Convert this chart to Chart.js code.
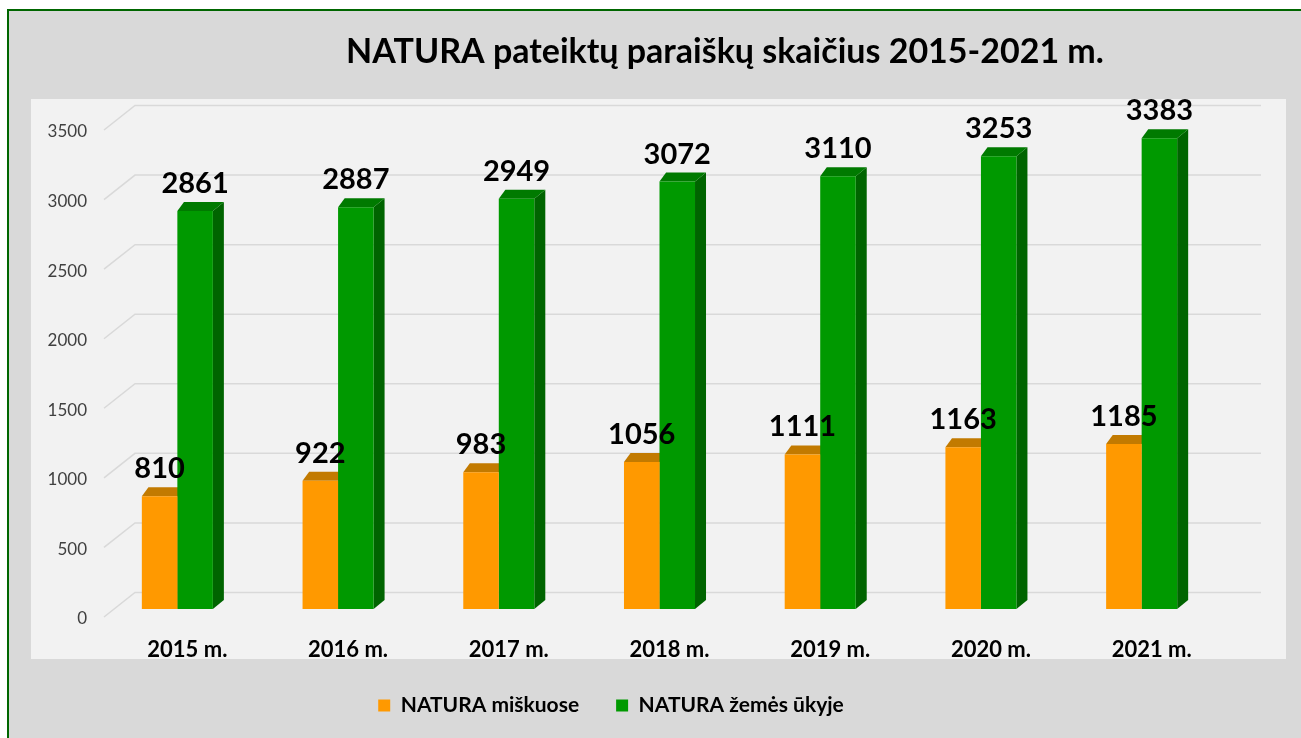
<!DOCTYPE html>
<html>
<head>
<meta charset="utf-8">
<script src="https://cdn.jsdelivr.net/npm/chart.js@4.4.1/dist/chart.umd.min.js"></script>
<style>
  html, body { margin: 0; padding: 0; background: #ffffff; }
  #wrap { position: absolute; left: 0; top: 0; width: 1301px; height: 738px; }
</style>
</head>
<body>
<div id="wrap"><canvas id="c" width="1301" height="738"></canvas></div>
<script>
const categories = ['2015 m.', '2016 m.', '2017 m.', '2018 m.', '2019 m.', '2020 m.', '2021 m.'];
const miskuose = [810, 922, 983, 1056, 1111, 1163, 1185];
const zemesUkyje = [2861, 2887, 2949, 3072, 3110, 3253, 3383];
const yTicks = [0, 500, 1000, 1500, 2000, 2500, 3000, 3500];
const seriesNames = ['NATURA miškuose', 'NATURA žemės ūkyje'];
const titleText = 'NATURA pateiktų paraiškų skaičius 2015-2021 m.';

const DX = 11, DY = 9;
const faceColors = [
  { front: '#ff9900', top: '#c27a00', side: '#b36b00' },
  { front: '#009900', top: '#007a00', side: '#006400' }
];

const backgroundPlugin = {
  id: 'bgPlugin',
  beforeDraw(chart) {
    const ctx = chart.ctx;
    ctx.save();
    ctx.fillStyle = '#ffffff';
    ctx.fillRect(0, 0, chart.width, chart.height);
    ctx.fillStyle = '#d9d9d9';
    ctx.fillRect(8, 10, chart.width - 8, chart.height - 10);
    ctx.fillStyle = '#006600';
    ctx.fillRect(7, 9, chart.width - 7, 2);
    ctx.fillRect(7, 9, 2, chart.height - 9);
    ctx.fillStyle = '#f2f2f2';
    ctx.fillRect(31, 99, 1255, 560);
    ctx.restore();
  },
  afterDraw(chart) {
    const ctx = chart.ctx;
    ctx.save();
    ctx.font = 'bold 34px Lato';
    ctx.fillStyle = '#000000';
    ctx.textAlign = 'center';
    ctx.textBaseline = 'alphabetic';
    ctx.fillText(titleText, 725, 63);
    ctx.restore();
  }
};

const threeDPlugin = {
  id: 'threeD',
  beforeDatasetsDraw(chart) {
    const ctx = chart.ctx;
    const area = chart.chartArea;
    const yScale = chart.scales.y;
    ctx.save();
    ctx.strokeStyle = '#d9d9d9';
    ctx.lineWidth = 1.5;
    yTicks.forEach(v => {
      const yf = yScale.getPixelForValue(v);
      ctx.beginPath();
      ctx.moveTo(area.left + 7, yf + 8);
      ctx.lineTo(area.left + 38, yf - 16.5);
      ctx.lineTo(area.right + 39, yf - 16.5);
      ctx.stroke();
    });
    chart.data.datasets.forEach((ds, di) => {
      const meta = chart.getDatasetMeta(di);
      const col = faceColors[di];
      meta.data.forEach(bar => {
        const p = bar.getProps(['x', 'y', 'base', 'width'], true);
        const x1 = p.x - p.width / 2, x2 = p.x + p.width / 2;
        const top = p.y, base = p.base;
        ctx.fillStyle = col.side;
        ctx.beginPath();
        ctx.moveTo(x2, top);
        ctx.lineTo(x2 + DX, top - DY);
        ctx.lineTo(x2 + DX, base - DY);
        ctx.lineTo(x2, base);
        ctx.closePath();
        ctx.fill();
        ctx.fillStyle = col.top;
        ctx.beginPath();
        ctx.moveTo(x1, top);
        ctx.lineTo(x1 + DX * 0.6, top - DY);
        ctx.lineTo(x2 + DX, top - DY);
        ctx.lineTo(x2, top);
        ctx.closePath();
        ctx.fill();
      });
    });
    ctx.restore();
  },
  afterDatasetsDraw(chart) {
    const ctx = chart.ctx;
    ctx.save();
    ctx.font = 'bold 29px Lato';
    ctx.fillStyle = '#000000';
    ctx.textAlign = 'center';
    ctx.textBaseline = 'alphabetic';
    chart.data.datasets.forEach((ds, di) => {
      const meta = chart.getDatasetMeta(di);
      meta.data.forEach((bar, i) => {
        const p = bar.getProps(['x', 'y'], true);
        ctx.fillText(String(ds.data[i]), p.x, p.y - 18);
      });
    });
    ctx.restore();
  }
};

new Chart(document.getElementById('c'), {
  type: 'bar',
  data: {
    labels: categories,
    datasets: [
      { label: seriesNames[0], data: miskuose, backgroundColor: faceColors[0].front, borderWidth: 0 },
      { label: seriesNames[1], data: zemesUkyje, backgroundColor: faceColors[1].front, borderWidth: 0 }
    ]
  },
  options: {
    responsive: false,
    animation: false,
    devicePixelRatio: 1,
    layout: { padding: { left: 0, right: 79, top: 122, bottom: 12 } },
    datasets: { bar: { categoryPercentage: 0.442, barPercentage: 1.0 } },
    scales: {
      x: {
        type: 'category',
        grid: { display: false, drawTicks: false },
        border: { display: false },
        ticks: { font: { family: 'Lato', weight: 'bold', size: 22 }, color: '#000000', labelOffset: 10, padding: 28, maxRotation: 0 },
        afterFit(scale) { scale.height = 49; }
      },
      y: {
        min: 0, max: 3500,
        grid: { display: false, drawTicks: false },
        border: { display: false },
        afterBuildTicks(scale) { scale.ticks = yTicks.map(v => ({ value: v })); },
        ticks: {
          font: { family: 'Lato', size: 17 }, color: '#404040', labelOffset: 10, padding: 10,
          callback: (v) => String(v)
        },
        afterFit(scale) { scale.width = 97; }
      }
    },
    plugins: {
      title: { display: false },
      legend: {
        display: true,
        position: 'bottom',
        labels: {
          boxWidth: 12, boxHeight: 12, padding: 37,
          font: { family: 'Lato', weight: 'bold', size: 21 },
          color: '#000000'
        }
      },
      tooltip: { enabled: false }
    }
  },
  plugins: [backgroundPlugin, threeDPlugin]
});
</script>
</body>
</html>
